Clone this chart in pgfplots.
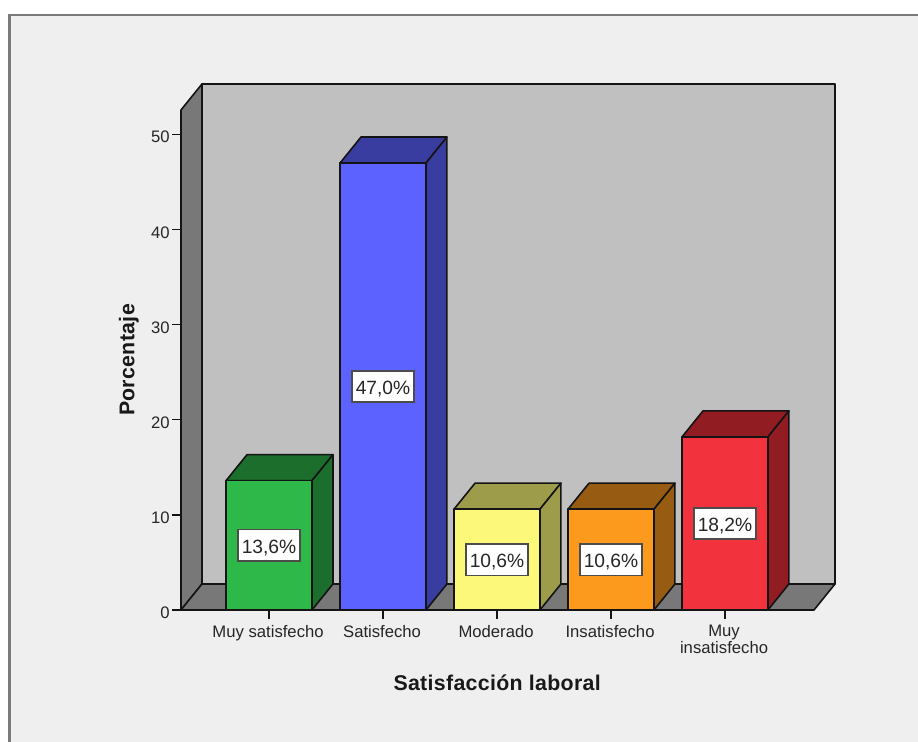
\documentclass[border=0pt]{standalone}
\usepackage{fontspec}
\setmainfont{Liberation Sans}
\usepackage{pgfplots}
\pgfplotsset{compat=1.18}

\definecolor{chartbg}{HTML}{EFEFEF}
\definecolor{framegray}{HTML}{7A7A7A}
\definecolor{wallback}{HTML}{C0C0C0}
\definecolor{wallside}{HTML}{787878}
\definecolor{edge}{HTML}{141414}
\definecolor{txt}{HTML}{262626}
\definecolor{greenF}{HTML}{2EB84A}
\definecolor{greenD}{HTML}{1B6E2C}
\definecolor{blueF}{HTML}{5B62FF}
\definecolor{blueD}{HTML}{3A3DA0}
\definecolor{yellowF}{HTML}{FCF97A}
\definecolor{yellowD}{HTML}{9C9C4A}
\definecolor{orangeF}{HTML}{FC9A1E}
\definecolor{orangeD}{HTML}{975C12}
\definecolor{redF}{HTML}{F2333D}
\definecolor{redD}{HTML}{911C22}

\tikzset{
  face/.style={draw=edge, line width=1.2pt, line join=round},
  vallabel/.style={draw=black!70, line width=1.1pt, fill=white, text=txt,
    minimum width=46.5pt, minimum height=23.5pt, inner sep=0pt,
    font=\fontsize{14.4}{16}\selectfont},
}
% value text set on a fixed baseline inside its box
\newcommand{\valtext}[1]{\raisebox{-6.2pt}[0pt][0pt]{#1}}
\newcommand{\titlefont}{\fontsize{16}{20}\selectfont\bfseries\addfontfeatures{LetterSpace=1.5}}

\begin{document}
\begin{tikzpicture}
  % canvas and window frame
  \fill[white] (0,0) rectangle (688.5pt,556.5pt);
  \useasboundingbox (0,0) rectangle (688.5pt,556.5pt);
  \fill[chartbg] (7.5pt,0) rectangle (688.5pt,545.5pt);
  \draw[framegray, line width=1.9pt] (7.2pt,0) -- (7.2pt,545.2pt) -- (688.5pt,545.2pt);

  \begin{axis}[
    at={(135.75pt,99pt)}, anchor=south west,
    scale only axis, width=474.75pt, height=375pt,
    clip=false,
    xmin=-0.772, xmax=4.781, ymin=0, ymax=52.58,
    axis x line=bottom, axis y line=left,
    axis line style={-, edge, line width=1.2pt},
    tick align=outside, major tick length=6.5pt,
    tick style={edge, line width=1pt},
    xtick={0,1,2,3,4},
    xticklabels={Muy satisfecho,Satisfecho,Moderado,Insatisfecho,{Muy\\insatisfecho}},
    ytick={0,10,20,30,40,50},
    /pgf/number format/assume math mode=true,
    xticklabel style={align=center, anchor=north, text=txt, yshift=-1.3pt, xshift=-0.7pt,
      font=\fontsize{12.5}{12.4}\selectfont},
    yticklabel style={text=txt, xshift=1.5pt, yshift=-2pt, font=\fontsize{12.5}{15}\selectfont},
    xlabel={Satisfacción laboral},
    ylabel={Porcentaje},
    xlabel style={at={(axis description cs:0.4995,-0.145)}, anchor=center,
      font=\titlefont, text=black!90},
    ylabel style={at={(axis description cs:-0.0825,0.5)}, anchor=center,
      font=\titlefont, text=black!90},
  ]
    % back wall, left wall and floor of the box
    \addplot[face, fill=wallback] coordinates {(-0.588,2.734) (4.965,2.734) (4.965,55.314) (-0.588,55.314)} --cycle;
    \addplot[face, fill=wallside] coordinates {(-0.772,0) (-0.772,52.58) (-0.588,55.314) (-0.588,2.734)} --cycle;
    \addplot[face, fill=wallside] coordinates {(-0.772,0) (4.781,0) (4.965,2.734) (-0.588,2.734)} --cycle;

    % Muy satisfecho: 13,6
    \addplot[face, fill=greenD] coordinates {(-0.377,13.6) (0.377,13.6) (0.561,16.334) (-0.193,16.334)} --cycle;
    \addplot[face, fill=greenD] coordinates {(0.377,0) (0.561,2.734) (0.561,16.334) (0.377,13.6)} --cycle;
    \addplot[ybar, bar width=64.5pt, face, fill=greenF] coordinates {(0,13.6)};

    % Satisfecho: 47,0
    \addplot[face, fill=blueD] coordinates {(0.623,47.0) (1.377,47.0) (1.561,49.734) (0.807,49.734)} --cycle;
    \addplot[face, fill=blueD] coordinates {(1.377,0) (1.561,2.734) (1.561,49.734) (1.377,47.0)} --cycle;
    \addplot[ybar, bar width=64.5pt, face, fill=blueF] coordinates {(1,47.0)};

    % Moderado: 10,6
    \addplot[face, fill=yellowD] coordinates {(1.623,10.6) (2.377,10.6) (2.561,13.334) (1.807,13.334)} --cycle;
    \addplot[face, fill=yellowD] coordinates {(2.377,0) (2.561,2.734) (2.561,13.334) (2.377,10.6)} --cycle;
    \addplot[ybar, bar width=64.5pt, face, fill=yellowF] coordinates {(2,10.6)};

    % Insatisfecho: 10,6
    \addplot[face, fill=orangeD] coordinates {(2.623,10.6) (3.377,10.6) (3.561,13.334) (2.807,13.334)} --cycle;
    \addplot[face, fill=orangeD] coordinates {(3.377,0) (3.561,2.734) (3.561,13.334) (3.377,10.6)} --cycle;
    \addplot[ybar, bar width=64.5pt, face, fill=orangeF] coordinates {(3,10.6)};

    % Muy insatisfecho: 18,2
    \addplot[face, fill=redD] coordinates {(3.623,18.2) (4.377,18.2) (4.561,20.934) (3.807,20.934)} --cycle;
    \addplot[face, fill=redD] coordinates {(4.377,0) (4.561,2.734) (4.561,20.934) (4.377,18.2)} --cycle;
    \addplot[ybar, bar width=64.5pt, face, fill=redF] coordinates {(4,18.2)};

    % percentage labels at mid-height of each bar
    \node[vallabel] at (axis cs:0,6.8) {\valtext{13,6\%}};
    \node[vallabel] at (axis cs:1,23.5) {\valtext{47,0\%}};
    \node[vallabel] at (axis cs:2,5.3) {\valtext{10,6\%}};
    \node[vallabel] at (axis cs:3,5.3) {\valtext{10,6\%}};
    \node[vallabel] at (axis cs:4,9.1) {\valtext{18,2\%}};
  \end{axis}
\end{tikzpicture}
\end{document}
